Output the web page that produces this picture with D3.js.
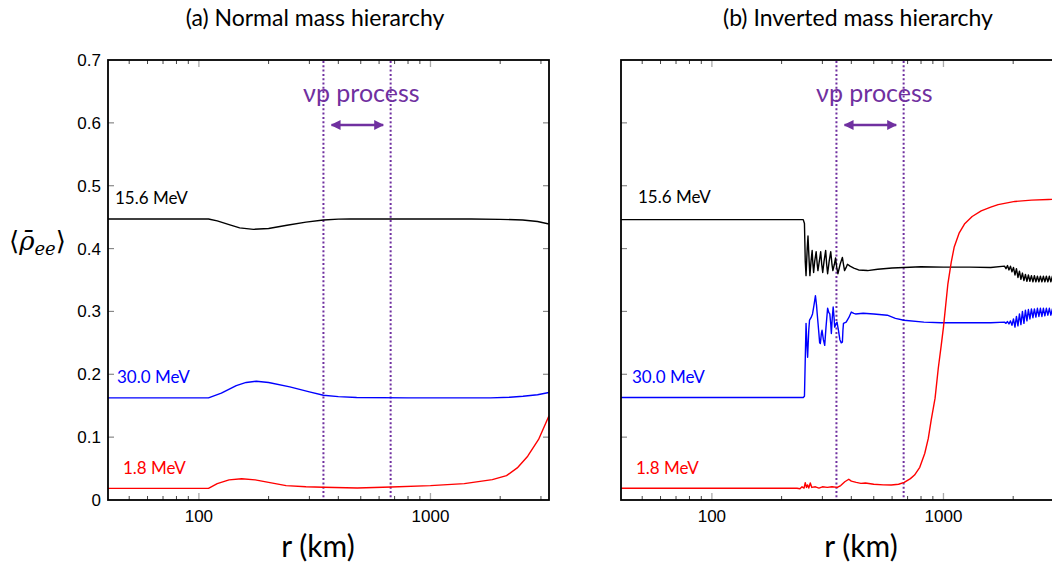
<!DOCTYPE html>
<html><head><meta charset="utf-8">
<script src="https://cdn.jsdelivr.net/npm/d3@7"></script>
<style>body{margin:0;background:#fff}svg{display:block}</style>
</head><body>
<script>
// ---------------- data ----------------
const panelTitles = ["(a) Normal mass hierarchy", "(b) Inverted mass hierarchy"];
const yTicks = [0, 0.1, 0.2, 0.3, 0.4, 0.5, 0.6, 0.7];
const yTickLabels = ["0", "0.1", "0.2", "0.3", "0.4", "0.5", "0.6", "0.7"];
const xMajorTicks = [100, 1000];
const xMajorLabels = ["100", "1000"];
const xMinorTicks = [50, 60, 70, 80, 90, 200, 300, 400, 500, 600, 700, 800, 900, 2000, 3000];
const energyLabels = ["15.6 MeV", "30.0 MeV", "1.8 MeV"];
const nupBounds = [345, 673];      // r (km) of the vp-process region
const nupArrow = [374, 625];

// (a) normal hierarchy
const normal156 = [[40,0.447],[110,0.447],[120,0.444],[135,0.438],[150,0.433],[172,0.4306],[200,0.432],[240,0.437],[290,0.442],[345,0.4455],[400,0.4468],[449,0.447],[700,0.447],[1000,0.447],[1500,0.447],[2000,0.4465],[2500,0.4455],[2900,0.443],[3250,0.439]];
const normal300 = [[40,0.1624],[110,0.1624],[125,0.170],[145,0.182],[160,0.187],[177,0.189],[200,0.187],[247,0.180],[300,0.172],[345,0.1667],[400,0.1645],[480,0.163],[800,0.1625],[1816,0.1625],[2200,0.1635],[2510,0.165],[2900,0.1675],[3250,0.171]];
const normal18 = [[40,0.0185],[110,0.0185],[120,0.026],[135,0.032],[153,0.0339],[175,0.032],[200,0.028],[238,0.0229],[290,0.021],[345,0.0202],[483,0.019],[677,0.0207],[1000,0.0229],[1400,0.026],[1850,0.0324],[2130,0.0388],[2370,0.051],[2630,0.0697],[2930,0.0963],[3250,0.134]];

// (b) inverted hierarchy
const inverted156 = [[40,0.446],[248,0.446],[251,0.44],[253,0.38],[255,0.357],[258,0.40],[260,0.42],[263,0.38],[265,0.357],[268,0.38],[271,0.397],[273,0.375],[275,0.362],[278,0.38],[282,0.395],[285,0.375],[287,0.365],[291,0.38],[295,0.395],[298,0.375],[301,0.362],[305,0.38],[310,0.397],[313,0.375],[316,0.36],[321,0.38],[326,0.395],[330,0.375],[333,0.365],[338,0.375],[342,0.385],[346,0.37],[350,0.36],[358,0.375],[366,0.386],[370,0.375],[374,0.365],[380,0.370],[385,0.375],[395,0.372],[410,0.369],[430,0.366],[470,0.365],[520,0.367],[600,0.369],[675,0.370],[800,0.371],[1000,0.3705],[1300,0.3705],[1600,0.370],
[1835,0.372],[1862,0.368],[1890,0.373],[1918,0.366],[1947,0.372],[1976,0.363],[2006,0.370],[2036,0.358],[2066,0.368],[2097,0.354],[2129,0.364],[2160,0.351],[2193,0.361],[2226,0.349],[2259,0.359],[2293,0.348],[2327,0.358],[2362,0.348],[2398,0.357],[2434,0.347],[2470,0.357],[2507,0.347],[2545,0.356],[2583,0.347],[2622,0.356],[2661,0.347],[2701,0.356],[2741,0.347],[2782,0.356],[2824,0.347],[2866,0.356],[2909,0.347],[2953,0.356],[2997,0.347],[3042,0.356],[3088,0.347],[3134,0.356],[3181,0.347],[3229,0.356],[3250,0.352]];
const inverted300 = [[40,0.163],[248,0.163],[251,0.165],[255,0.281],[257,0.25],[259,0.227],[262,0.27],[264,0.286],[268,0.29],[272,0.296],[276,0.31],[280,0.325],[283,0.31],[285,0.296],[289,0.27],[292,0.25],[294,0.249],[297,0.265],[299,0.27],[303,0.255],[307,0.246],[311,0.275],[316,0.305],[320,0.298],[323,0.296],[326,0.28],[328,0.265],[331,0.29],[334,0.307],[337,0.29],[339,0.275],[343,0.28],[347,0.283],[352,0.27],[357,0.255],[362,0.25],[366,0.251],[368,0.27],[370,0.281],[380,0.283],[390,0.29],[400,0.299],[410,0.297],[417,0.296],[450,0.297],[500,0.296],[572,0.294],[620,0.289],[675,0.286],[823,0.283],[978,0.282],[1300,0.282],[1600,0.282],
[1835,0.283],[1862,0.281],[1890,0.284],[1918,0.280],[1947,0.285],[1976,0.278],[2006,0.288],[2036,0.275],[2066,0.292],[2097,0.277],[2129,0.296],[2160,0.279],[2193,0.300],[2226,0.281],[2259,0.302],[2293,0.285],[2327,0.303],[2362,0.288],[2398,0.304],[2434,0.290],[2470,0.304],[2507,0.291],[2545,0.305],[2583,0.292],[2622,0.305],[2661,0.292],[2701,0.305],[2741,0.293],[2782,0.305],[2824,0.294],[2866,0.305],[2909,0.294],[2953,0.304],[2997,0.294],[3042,0.304],[3088,0.295],[3134,0.304],[3181,0.295],[3229,0.304],[3250,0.300]];
const inverted18 = [[40,0.0186],[233,0.0186],[240,0.018],[245,0.021],[250,0.019],[253,0.0275],[256,0.02],[259,0.024],[262,0.019],[266,0.027],[270,0.02],[280,0.021],[290,0.019],[300,0.021],[315,0.02],[330,0.021],[348,0.02],[360,0.023],[375,0.029],[390,0.033],[400,0.03],[420,0.028],[440,0.0265],[460,0.027],[500,0.025],[550,0.024],[595,0.0238],[640,0.025],[677,0.028],[720,0.034],[750,0.0397],[790,0.052],[830,0.074],[860,0.098],[885,0.127],[920,0.162],[950,0.21],[978,0.246],[1000,0.275],[1045,0.344],[1080,0.378],[1112,0.402],[1170,0.425],[1232,0.439],[1330,0.451],[1455,0.460],[1600,0.466],[1722,0.470],[2034,0.475],[2400,0.477],[2835,0.478],[3250,0.479]];

const seriesColors = ["#000000", "#0000ff", "#ff0000"];
const panelSeries = [[normal156, normal300, normal18], [inverted156, inverted300, inverted18]];

// ---------------- layout ----------------
const W = 1052, H = 565;
const panels = [
  {x0: 108, titleX: 315, xlabX: 318, labels: [[7, 204], [9, 383], [15, 474]]},
  {x0: 621, titleX: 858, xlabX: 861, labels: [[17, 203], [11, 383], [15, 474]]}
];
const pw = 441, plotTop = 60, plotBottom = 500;
const purple = "#7030a0";

const svg = d3.select("body").append("svg").attr("width", W).attr("height", H);
const defs = svg.append("defs");
defs.append("marker").attr("id", "ah").attr("viewBox", "0 0 10 10").attr("refX", 9).attr("refY", 5)
  .attr("markerWidth", 4).attr("markerHeight", 4).attr("orient", "auto-start-reverse")
  .append("path").attr("d", "M0,0L10,5L0,10Z").attr("fill", purple);

const y = d3.scaleLinear().domain([0, 0.7]).range([plotBottom, plotTop]);

panels.forEach((p, i) => {
  const x = d3.scaleLog().domain([40.5, 3250]).range([p.x0, p.x0 + pw]);
  const g = svg.append("g");
  const clipId = "clip" + i;
  defs.append("clipPath").attr("id", clipId).append("rect")
    .attr("x", p.x0).attr("y", plotTop).attr("width", pw).attr("height", plotBottom - plotTop);

  g.append("text").attr("x", p.titleX).attr("y", 26).attr("text-anchor", "middle")
    .attr("font-family", "Lato").attr("font-size", 23).attr("fill", "#000").text(panelTitles[i]);
  g.append("text").attr("x", p.xlabX).attr("y", 557).attr("text-anchor", "middle")
    .attr("font-family", "Lato").attr("font-size", 30).attr("fill", "#000").text("r (km)");

  yTicks.slice(1, -1).forEach(t => {
    g.append("line").attr("x1", p.x0).attr("x2", p.x0 + 6).attr("y1", y(t)).attr("y2", y(t))
      .attr("stroke", "#888").attr("stroke-width", 1.2);
    g.append("line").attr("x1", p.x0 + pw).attr("x2", p.x0 + pw - 6).attr("y1", y(t)).attr("y2", y(t))
      .attr("stroke", "#888").attr("stroke-width", 1.2);
  });
  if (i === 0) {
    yTicks.forEach((t, k) => {
      g.append("text").attr("x", p.x0 - 7).attr("y", y(t) + 6).attr("text-anchor", "end")
        .attr("font-family", "Liberation Sans").attr("font-size", 17).attr("fill", "#000")
        .text(yTickLabels[k]);
    });
  }
  xMinorTicks.forEach(t => {
    [[plotBottom, -4], [plotTop, 4]].forEach(([yy, d]) => {
      g.append("line").attr("x1", x(t)).attr("x2", x(t)).attr("y1", yy).attr("y2", yy + d)
        .attr("stroke", "#444").attr("stroke-width", 1);
    });
  });
  xMajorTicks.forEach((t, k) => {
    [[plotBottom, -7], [plotTop, 7]].forEach(([yy, d]) => {
      g.append("line").attr("x1", x(t)).attr("x2", x(t)).attr("y1", yy).attr("y2", yy + d)
        .attr("stroke", "#aaa").attr("stroke-width", 1.3);
    });
    g.append("text").attr("x", x(t)).attr("y", 522).attr("text-anchor", "middle")
      .attr("font-family", "Liberation Sans").attr("font-size", 17).attr("fill", "#000")
      .text(xMajorLabels[k]);
  });

  nupBounds.forEach(b => {
    g.append("line").attr("x1", x(b)).attr("x2", x(b)).attr("y1", plotTop + 1).attr("y2", plotBottom)
      .attr("stroke", purple).attr("stroke-width", 2).attr("stroke-dasharray", "2,2.3");
  });
  g.append("line").attr("x1", x(nupArrow[0])).attr("x2", x(nupArrow[1])).attr("y1", 125).attr("y2", 125)
    .attr("stroke", purple).attr("stroke-width", 2.5)
    .attr("marker-start", "url(#ah)").attr("marker-end", "url(#ah)");
  g.append("text").attr("x", x(503)).attr("y", 102).attr("text-anchor", "middle")
    .attr("font-family", "Lato").attr("font-size", 25).attr("fill", purple).text("νp process");

  const line = d3.line().x(d => x(d[0])).y(d => y(d[1]));
  const cg = g.append("g").attr("clip-path", `url(#${clipId})`);
  panelSeries[i].forEach((s, k) => {
    cg.append("path").attr("d", line(s)).attr("fill", "none")
      .attr("stroke", seriesColors[k]).attr("stroke-width", 1.4).attr("stroke-linejoin", "round");
  });

  energyLabels.forEach((lab, k) => {
    g.append("text").attr("x", p.x0 + p.labels[k][0]).attr("y", p.labels[k][1])
      .attr("font-family", "Lato").attr("font-size", 17).attr("fill", seriesColors[k]).text(lab);
  });

  g.append("rect").attr("x", p.x0).attr("y", plotTop).attr("width", pw).attr("height", plotBottom - plotTop)
    .attr("fill", "none").attr("stroke", "#000").attr("stroke-width", 1.8);
});

const yl = svg.append("text").attr("x", 9).attr("y", 250)
  .attr("font-family", "DejaVu Serif").attr("font-size", 26).attr("fill", "#000");
yl.append("tspan").attr("font-style", "normal").text("⟨");
yl.append("tspan").attr("font-style", "italic").text("ρ̄");
yl.append("tspan").attr("font-style", "italic").attr("font-size", 18).attr("dy", 5).text("ee");
yl.append("tspan").attr("font-style", "normal").attr("dy", -5).text("⟩");
</script>
</body></html>
